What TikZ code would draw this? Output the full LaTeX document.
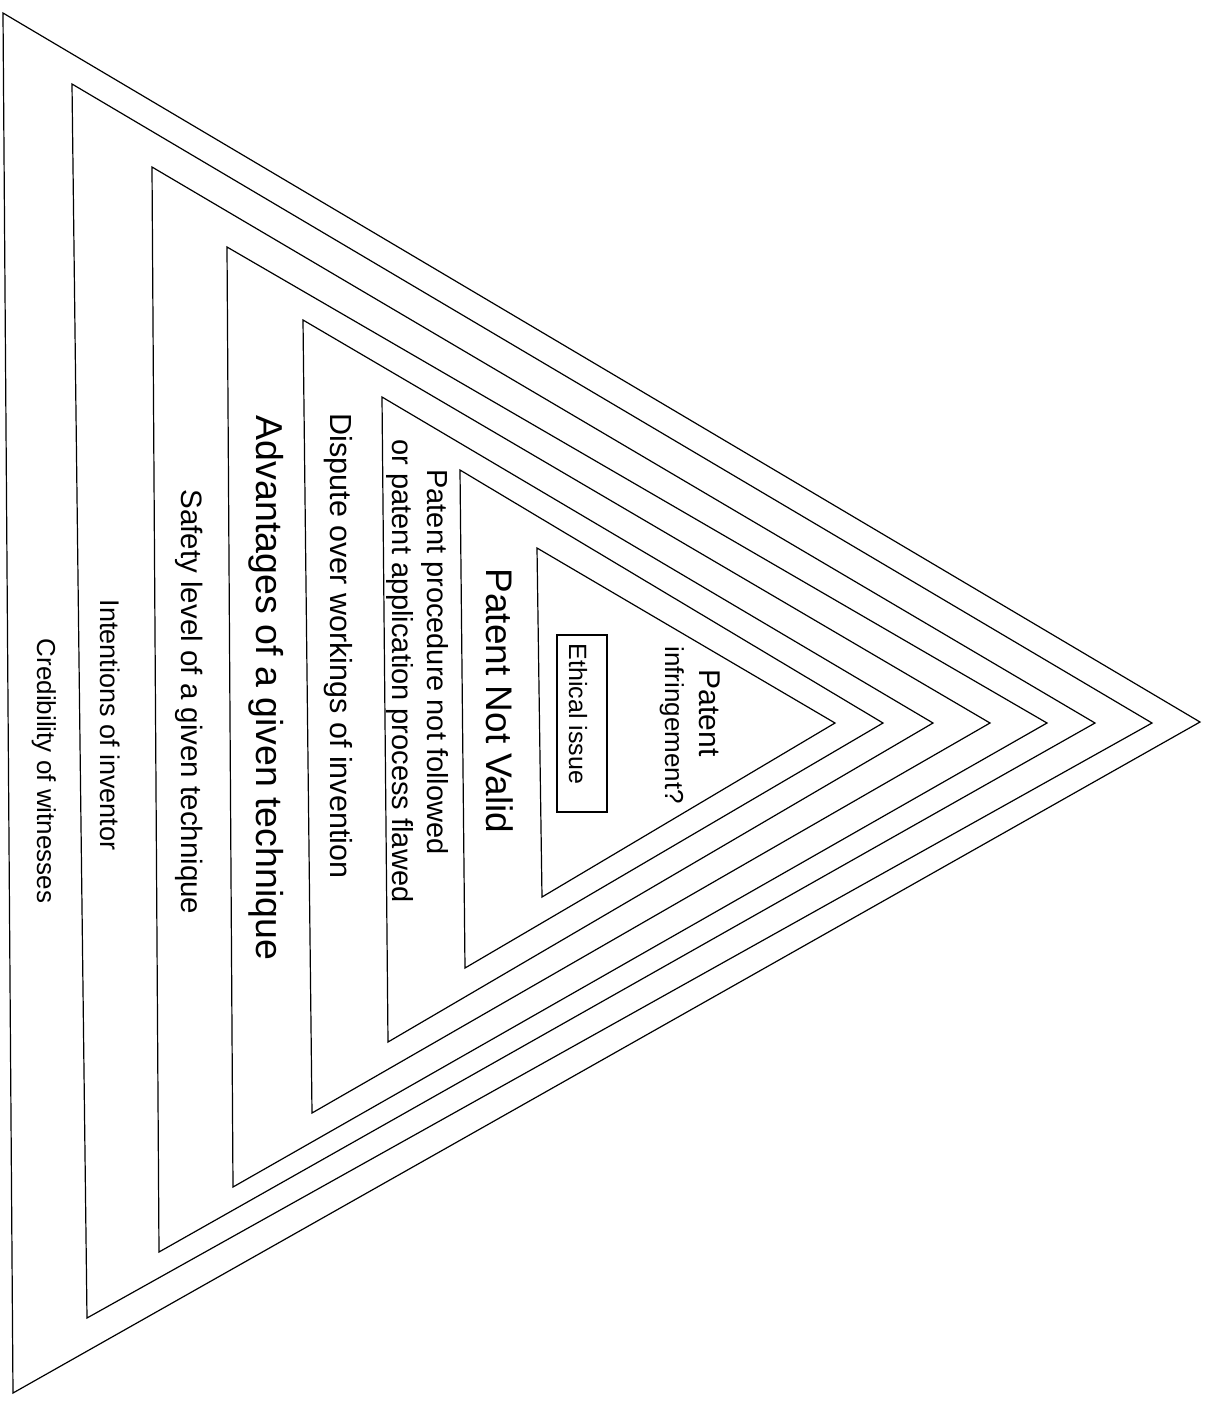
\documentclass[tikz,border=0pt]{standalone}
\usepackage{fontspec}
\setmainfont{Liberation Sans}
\begin{document}
\begin{tikzpicture}[x=1pt,y=-1pt,
  tri/.style={draw=black, line width=1.2pt, line join=miter},
  lbl/.style={rotate=-90, inner sep=0pt, anchor=base, text=black},
  fs/.style={font=\fontsize{#1}{#1}\selectfont}]
\useasboundingbox (0,0) rectangle (1215,1401);
% nested triangles, outer to inner
\draw[tri] (3,13)    -- (1200,722) -- (13,1393)  -- cycle;
\draw[tri] (72,84)   -- (1152,723) -- (87,1318)  -- cycle;
\draw[tri] (152,167) -- (1095,723) -- (159,1252) -- cycle;
\draw[tri] (227,247) -- (1047,723) -- (233,1187) -- cycle;
\draw[tri] (303,320) -- (990,723)  -- (312,1113) -- cycle;
\draw[tri] (382,397) -- (933,723)  -- (388,1042) -- cycle;
\draw[tri] (460,470) -- (883,723)  -- (465,968)  -- cycle;
\draw[tri] (537,548) -- (835,723)  -- (542,897)  -- cycle;
% labels
\node[lbl, fs=30] (pat) at (699,713) {Patent};
\node[lbl, fs=26] (inf) at (665,725) {infringement?};
\node[draw=black, line width=1.1pt, minimum width=50pt, minimum height=177pt, inner sep=0pt] (ebox) at (582,723.5) {};
\node[lbl, fs=25] (eth) at (569,714) {Ethical issue};
\node[lbl, fs=37] (pnv) at (486,701) {Patent Not Valid};
\node[lbl, fs=29] (pp1) at (427,662) {Patent procedure not followed};
\node[lbl, fs=29] (pp2) at (392,671) {or patent application process flawed};
\node[lbl, fs=30.5] (dis) at (330,646) {Dispute over workings of invention};
\node[lbl, fs=37.5] (adv) at (256,688) {Advantages of a given technique};
\node[lbl, fs=29.5] (saf) at (181,702) {Safety level of a given technique};
\node[lbl, fs=27] (int) at (100,725) {Intentions of inventor};
\node[lbl, fs=26] (cre) at (37,771) {Credibility of witnesses};
\end{tikzpicture}
\end{document}
